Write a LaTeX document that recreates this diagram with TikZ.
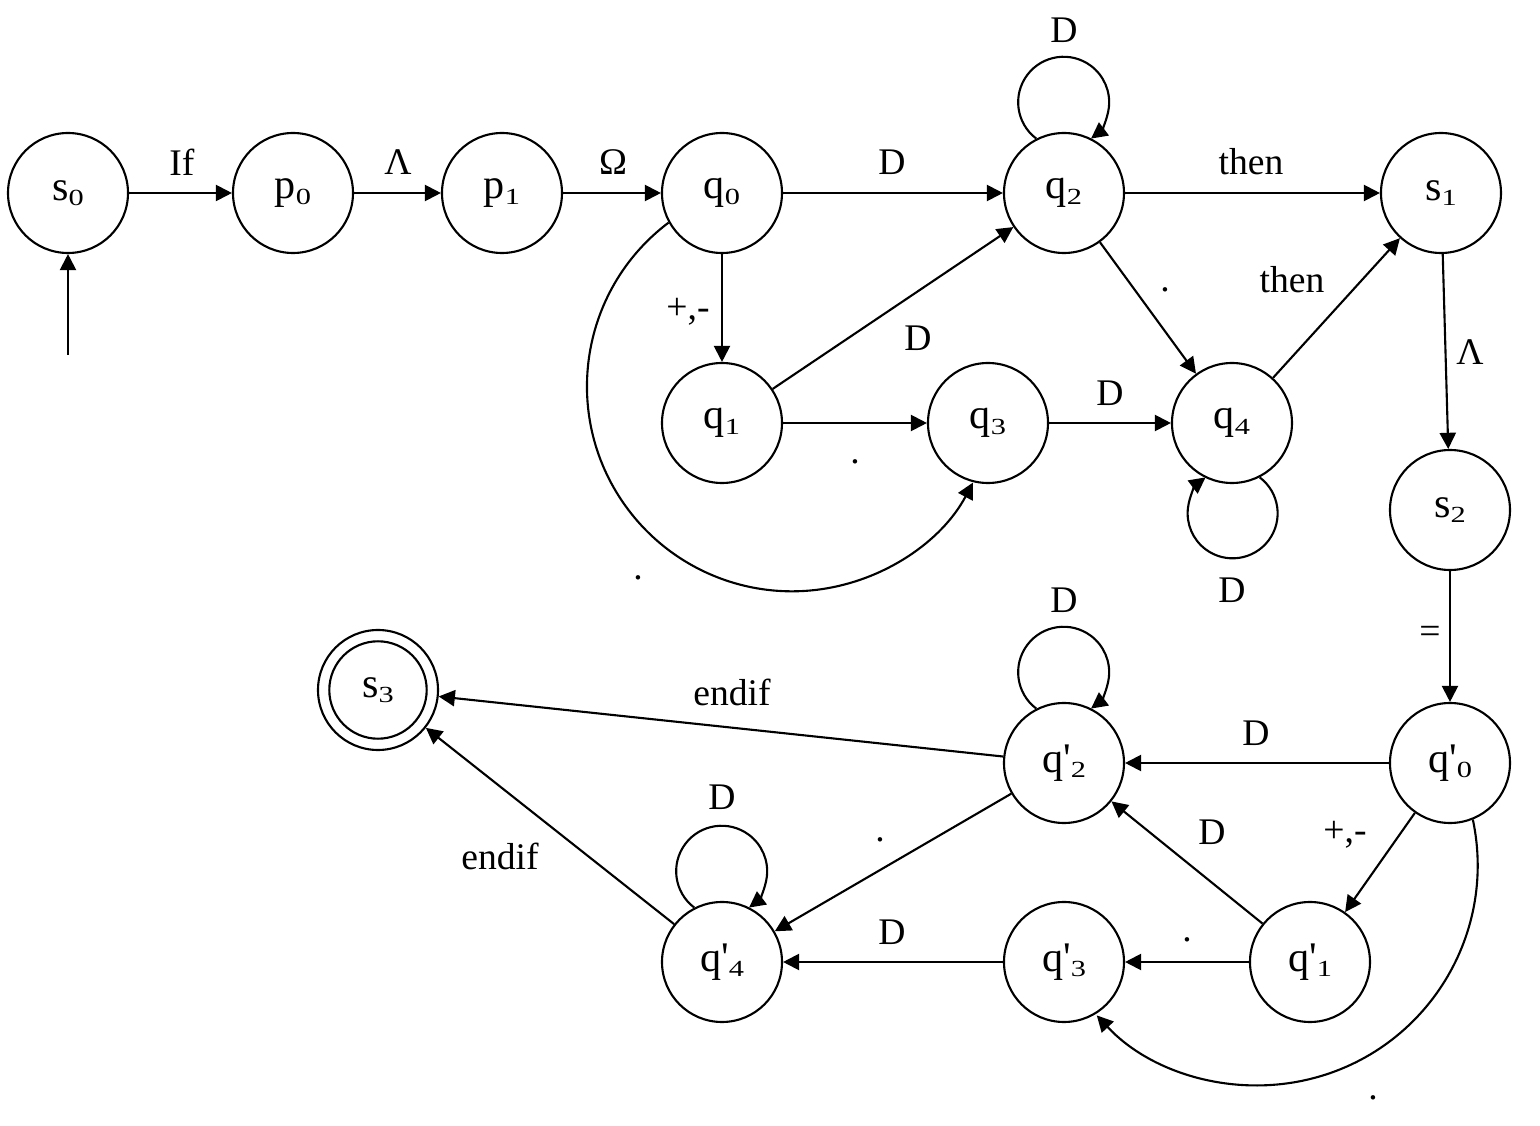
\documentclass[tikz,border=0pt]{standalone}
\usepackage{fontspec}
\setmainfont{Liberation Serif}[Ligatures={TeXOff,CommonOff}]
\usetikzlibrary{arrows.meta}

% state name with a lowered, squat index
\newcommand\stname[2]{#1\raisebox{-1.6pt}{\scalebox{1.08}[0.82]{\fontsize{8}{9}\selectfont #2}}}

\begin{document}
\begin{tikzpicture}[
  line width=0.6pt,
  state/.style={circle,draw,minimum size=1.2cm,inner sep=0pt,font=\fontsize{12}{14}\selectfont},
  lbl/.style={font=\fontsize{10.7}{13}\selectfont,inner sep=0pt},
  tr/.style={-{Triangle[length=4.6pt,width=4.6pt]}},
]
\useasboundingbox (0,0) rectangle (15.4,-11.26);

% states
\node[state] (s0)  at (0.68,-1.93)  {\stname{s}{0}};
\node[state] (p0)  at (2.93,-1.93)  {\stname{p}{0}};
\node[state] (p1)  at (5.02,-1.93)  {\stname{p}{1}};
\node[state] (q0)  at (7.22,-1.93)  {\stname{q}{0}};
\node[state] (q2)  at (10.64,-1.93) {\stname{q}{2}};
\node[state] (s1)  at (14.41,-1.93) {\stname{s}{1}};
\node[state] (q1)  at (7.22,-4.23)  {\stname{q}{1}};
\node[state] (q3)  at (9.88,-4.23)  {\stname{q}{3}};
\node[state] (q4)  at (12.32,-4.23) {\stname{q}{4}};
\node[state] (s2)  at (14.50,-5.10) {\stname{s}{2}};
\node[state] (s3)  at (3.78,-6.90)  {\stname{s}{3}};
\draw (s3.center) circle[radius=0.487];
\node[state] (qp2) at (10.64,-7.63) {\stname{q'}{2}};
\node[state] (qp0) at (14.50,-7.63) {\stname{q'}{0}};
\node[state] (qp4) at (7.22,-9.62)  {\stname{q'}{4}};
\node[state] (qp3) at (10.64,-9.62) {\stname{q'}{3}};
\node[state] (qp1) at (13.10,-9.62) {\stname{q'}{1}};

% start arrow
\coordinate (start) at (0.68,-3.55);
\draw[tr] (start) -- (s0);

% upper automaton
\draw[tr] (s0) -- (p0);
\draw[tr] (p0) -- (p1);
\draw[tr] (p1) -- (q0);
\draw[tr] (q0) -- (q2);
\draw[tr] (q2) -- (s1);
\draw[tr] (q0) -- (q1);
\draw[tr] (q1) -- (q2);
\draw[tr] (q1) -- (q3);
\draw[tr] (q3) -- (q4);
\draw[tr] (q2) -- (q4);
\draw[tr] (q4) -- (s1);
\draw[tr] (s1) -- (s2);
\draw[tr] (s2) -- (qp0);
\draw[tr] (q2.117) arc[start angle=233,end angle=-53,radius=0.455];
\draw[tr] (q4.-63) arc[start angle=53,end angle=-233,radius=0.45];
\draw[tr] (q0.209) arc[start angle=127,end angle=332,radius=2.05];

% lower automaton
\draw[tr] (qp0) -- (qp2);
\draw[tr] (qp0) -- (qp1);
\draw[tr] (qp1) -- (qp2);
\draw[tr] (qp1) -- (qp3);
\draw[tr] (qp3) -- (qp4);
\draw[tr] (qp2) -- (qp4);
\draw[tr] (qp2) -- (s3);
\draw[tr] (qp4) -- (s3);
\draw[tr] (qp2.117) arc[start angle=233,end angle=-53,radius=0.455];
\draw[tr] (qp4.117) arc[start angle=233,end angle=-53,radius=0.455];
\draw[tr] (qp0.-68) arc[start angle=12,end angle=-137,radius=2.2];

% transition labels
\node[lbl] (l1)  at (1.82,-1.62)  {If};
\node[lbl] (l2)  at (3.98,-1.62)  {Λ};
\node[lbl] (l3)  at (6.13,-1.62)  {Ω};
\node[lbl] (l4)  at (8.92,-1.62)  {D};
\node[lbl] (l5)  at (12.51,-1.62) {then};
\node[lbl] (l6)  at (10.64,-0.30) {D};
\node[lbl] (l7)  at (6.88,-3.12)  {+,-};
\node[lbl] (l8)  at (9.18,-3.38)  {D};
\node[lbl] (l9)  at (8.55,-4.62)  {.};
\node[lbl] (l10) at (11.10,-3.93) {D};
\node[lbl] (l11) at (11.65,-2.90) {.};
\node[lbl] (l12) at (12.92,-2.80) {then};
\node[lbl] (l13) at (12.32,-5.90) {D};
\node[lbl] (l14) at (6.38,-5.78)  {.};
\node[lbl] (l15) at (14.70,-3.52) {Λ};
\node[lbl] (l16) at (14.30,-6.35) {=};
\node[lbl] (l17) at (12.56,-7.33) {D};
\node[lbl] (l18) at (13.45,-8.35) {+,-};
\node[lbl] (l19) at (12.12,-8.32) {D};
\node[lbl] (l20) at (11.87,-9.40) {.};
\node[lbl] (l21) at (8.92,-9.32)  {D};
\node[lbl] (l22) at (8.80,-8.40)  {.};
\node[lbl] (l23) at (10.64,-6.00) {D};
\node[lbl] (l24) at (7.22,-7.97)  {D};
\node[lbl] (l25) at (7.32,-6.92)  {endif};
\node[lbl] (l26) at (5.00,-8.56)  {endif};
\node[lbl] (l27) at (13.73,-10.98) {.};
\end{tikzpicture}
\end{document}
